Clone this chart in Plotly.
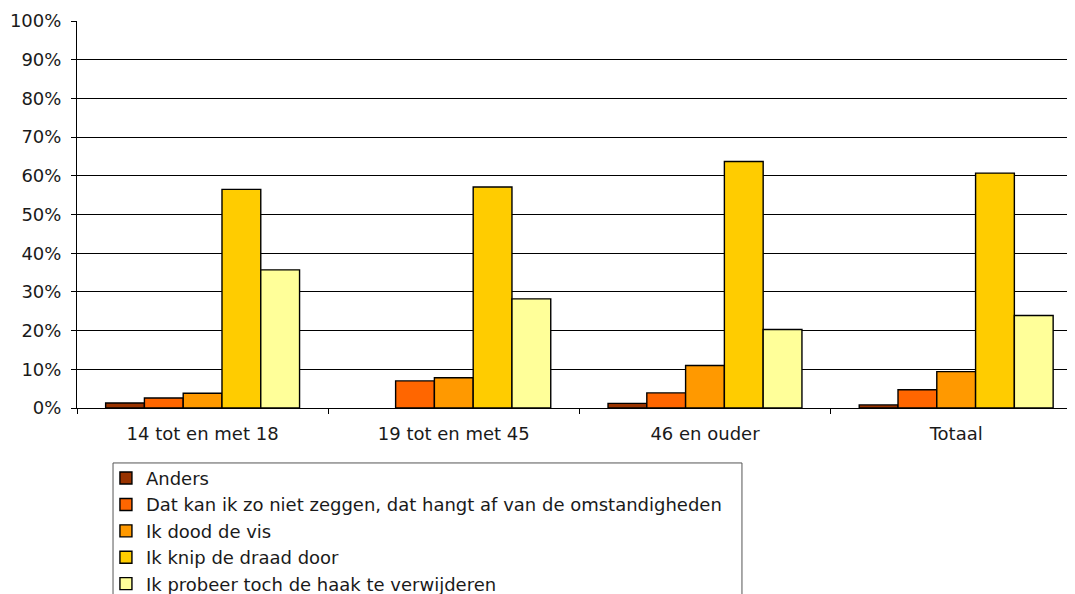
import plotly.graph_objects as go

categories = ["14 tot en met 18", "19 tot en met 45", "46 en ouder", "Totaal"]
series_names = [
    "Anders",
    "Dat kan ik zo niet zeggen, dat hangt af van de omstandigheden",
    "Ik dood de vis",
    "Ik knip de draad door",
    "Ik probeer toch de haak te verwijderen",
]
anders = [1.3, None, 1.2, 0.8]
dat_kan = [2.6, 7.0, 3.9, 4.7]
ik_dood = [3.8, 7.8, 11.0, 9.4]
ik_knip = [56.5, 57.1, 63.7, 60.7]
ik_probeer = [35.7, 28.2, 20.3, 23.9]
colors = ["#993300", "#FF6600", "#FF9900", "#FFCC00", "#FFFF99"]
yticks = [0, 10, 20, 30, 40, 50, 60, 70, 80, 90, 100]
yticklabels = [f"{v}%" for v in yticks]

series = [anders, dat_kan, ik_dood, ik_knip, ik_probeer]
FONT = "DejaVu Sans"
FS = 18
TXT = "#1a1a1a"

fig = go.Figure()
for name, vals, col in zip(series_names, series, colors):
    fig.add_trace(go.Bar(
        x=categories, y=vals, name=name,
        marker=dict(color=col, line=dict(color="#000000", width=1.4)),
        hoverinfo="skip",
    ))

# legend frame
fig.add_shape(type="rect", xref="paper", yref="paper",
              x0=0.0361, x1=0.6663, y0=-0.142, y1=-0.52,
              line=dict(color="#555555", width=1), fillcolor="rgba(0,0,0,0)",
              layer="below")

fig.update_layout(
    width=1075, height=594,
    margin=dict(l=69, r=8, t=13, b=194, autoexpand=False),
    paper_bgcolor="white", plot_bgcolor="white",
    barmode="group", bargap=0.228, bargroupgap=0,
    font=dict(family=FONT, size=FS, color=TXT),
    showlegend=True,
    legend=dict(
        x=0.029, y=-0.134, xanchor="left", yanchor="top",
        bgcolor="rgba(0,0,0,0)", borderwidth=0,
        font=dict(family=FONT, size=FS, color=TXT),
        itemclick=False, itemdoubleclick=False,
        tracegroupgap=0,
    ),
    xaxis=dict(
        type="category", range=[-0.5, 3.473], automargin=False,
        showline=True, linecolor="#000000", linewidth=1,
        ticks="outside", tickson="boundaries", ticklen=5, tickcolor="#000000",
        showgrid=False, ticklabelstandoff=9,
        tickfont=dict(family=FONT, size=FS, color=TXT),
    ),
    yaxis=dict(
        range=[0, 100], tickmode="array", tickvals=yticks, ticktext=yticklabels,
        automargin=False,
        showline=True, linecolor="#000000", linewidth=1,
        ticks="outside", ticklen=5, tickcolor="#000000",
        showgrid=True, gridcolor="#000000", gridwidth=1,
        zeroline=False, ticklabelstandoff=6,
        tickfont=dict(family=FONT, size=FS, color=TXT),
    ),
)

fig.write_html("out.html")
